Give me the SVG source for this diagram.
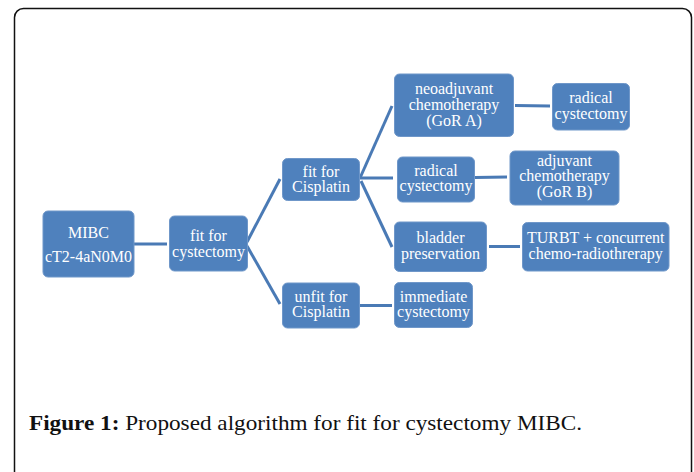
<svg xmlns="http://www.w3.org/2000/svg" width="694" height="472" viewBox="0 0 694 472">
<style>
.n rect{fill:#4f81bd;stroke:#6f97c9;stroke-width:1}
.n text{fill:#fff;font-family:"Liberation Serif","DejaVu Serif",serif;font-size:16px;text-anchor:middle}
.c line{stroke:#4a7ab5;stroke-width:3;stroke-linecap:butt}
.cap{font-family:"Liberation Serif","DejaVu Serif",serif;font-size:21px;fill:#111}
</style>
<rect x="14.5" y="8.5" width="677" height="475" rx="9" fill="#fff" stroke="#111" stroke-width="1.5"/>
<g class="c" id="connectors">
<line x1="134" y1="244" x2="167" y2="244"/>
<line x1="247" y1="242" x2="280" y2="179"/>
<line x1="247" y1="246" x2="280" y2="304"/>
<line x1="360" y1="178" x2="392" y2="106"/>
<line x1="360" y1="178" x2="393" y2="178"/>
<line x1="361" y1="181" x2="392" y2="247"/>
<line x1="515" y1="105.5" x2="550" y2="106"/>
<line x1="475" y1="177.5" x2="507" y2="177"/>
<line x1="489" y1="246.5" x2="520" y2="246.5"/>
<line x1="360" y1="305.5" x2="392" y2="305.5"/>
</g>
<g class="n" id="mibc"><rect x="43" y="211" width="91" height="66" rx="5"/><text x="88.5" y="238">MIBC</text><text x="88.5" y="261.5">cT2-4aN0M0</text></g>
<g class="n" id="fit-cystectomy"><rect x="169.5" y="216" width="78" height="55" rx="5"/><text x="208.5" y="240.5">fit for</text><text x="208.5" y="256.5">cystectomy</text></g>
<g class="n" id="fit-cisplatin"><rect x="282.5" y="158.5" width="77" height="42" rx="5"/><text x="321" y="176.5">fit for</text><text x="321" y="192">Cisplatin</text></g>
<g class="n" id="unfit-cisplatin"><rect x="282.5" y="283" width="77" height="45" rx="5"/><text x="321" y="301.5">unfit for</text><text x="321" y="317">Cisplatin</text></g>
<g class="n" id="neoadjuvant"><rect x="394.5" y="74" width="119" height="62.5" rx="5"/><text x="454" y="94.3">neoadjuvant</text><text x="454" y="110">chemotherapy</text><text x="454" y="126">(GoR A)</text></g>
<g class="n" id="radical-top"><rect x="552.5" y="83.5" width="77" height="46.5" rx="5"/><text x="591" y="103.3">radical</text><text x="591" y="119.3">cystectomy</text></g>
<g class="n" id="radical-mid"><rect x="397.5" y="157" width="77" height="45" rx="5"/><text x="436" y="175.7">radical</text><text x="436" y="191.3">cystectomy</text></g>
<g class="n" id="adjuvant"><rect x="510" y="151" width="109" height="54" rx="5"/><text x="564.5" y="165.5">adjuvant</text><text x="564.5" y="181.3">chemotherapy</text><text x="564.5" y="197.3">(GoR B)</text></g>
<g class="n" id="bladder"><rect x="394.5" y="222" width="92" height="49.5" rx="5"/><text x="440.5" y="243">bladder</text><text x="440.5" y="259">preservation</text></g>
<g class="n" id="turbt"><rect x="522.5" y="222.5" width="146.5" height="48.5" rx="5"/><text x="595.7" y="243">TURBT + concurrent</text><text x="595.7" y="259">chemo-radiothrerapy</text></g>
<g class="n" id="immediate"><rect x="394.5" y="282.5" width="78" height="45" rx="5"/><text x="433.5" y="301.7">immediate</text><text x="433.5" y="317.3">cystectomy</text></g>
<text class="cap" x="29" y="429.5" textLength="553" lengthAdjust="spacingAndGlyphs"><tspan font-weight="bold">Figure 1:</tspan> Proposed algorithm for fit for cystectomy MIBC.</text>
</svg>
